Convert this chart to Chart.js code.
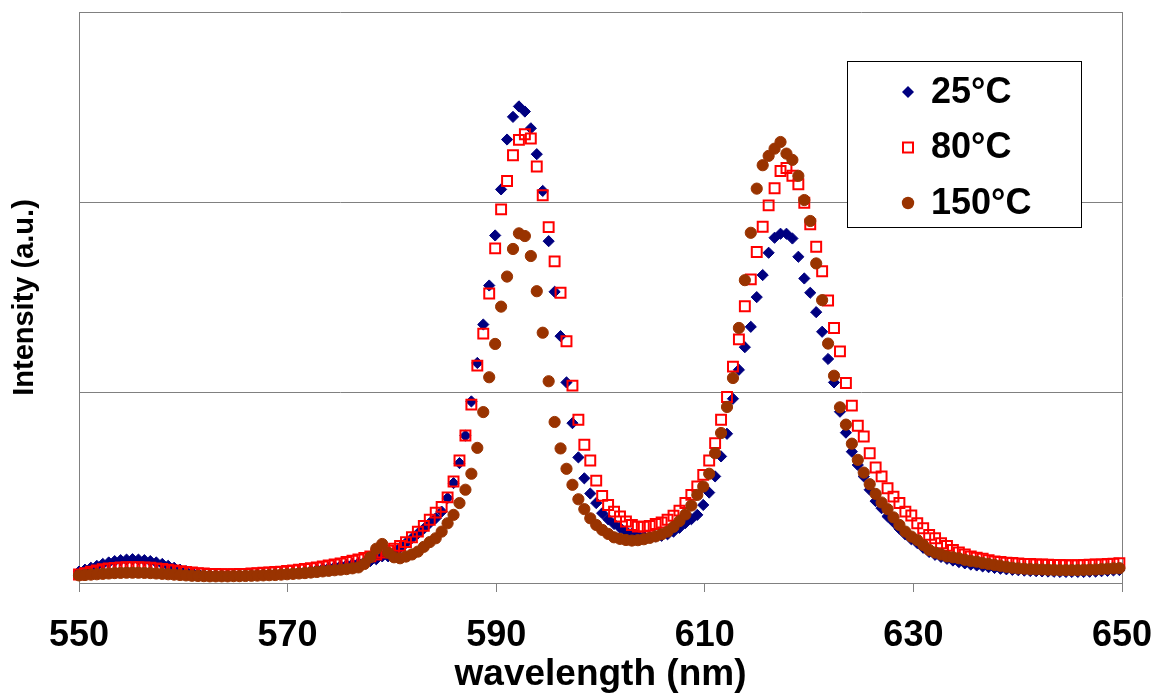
<!DOCTYPE html>
<html>
<head>
<meta charset="utf-8">
<title>Emission spectra</title>
<script src="https://cdn.jsdelivr.net/npm/chart.js"></script>
<style>
  html, body { margin: 0; padding: 0; background: #fff; }
  #wrap { width: 1156px; height: 698px; }
</style>
</head>
<body>
<div id="wrap"><canvas id="spectrumChart" width="1156" height="698"></canvas></div>
<script>
// wavelength grid (nm)
const wavelengths = [
  550.00, 550.57, 551.14, 551.71, 552.28, 552.85, 553.42, 553.99, 554.56, 555.13,
  555.70, 556.27, 556.84, 557.41, 557.98, 558.55, 559.12, 559.69, 560.26, 560.83,
  561.40, 561.97, 562.54, 563.11, 563.68, 564.25, 564.82, 565.39, 565.96, 566.53,
  567.10, 567.67, 568.24, 568.81, 569.38, 569.95, 570.52, 571.09, 571.66, 572.23,
  572.80, 573.37, 573.94, 574.51, 575.08, 575.65, 576.22, 576.79, 577.36, 577.93,
  578.50, 579.07, 579.64, 580.21, 580.78, 581.35, 581.92, 582.49, 583.06, 583.63,
  584.20, 584.77, 585.34, 585.91, 586.48, 587.05, 587.62, 588.19, 588.76, 589.33,
  589.90, 590.47, 591.04, 591.61, 592.18, 592.75, 593.32, 593.89, 594.46, 595.03,
  595.60, 596.17, 596.74, 597.31, 597.88, 598.45, 599.02, 599.59, 600.16, 600.73,
  601.30, 601.87, 602.44, 603.01, 603.58, 604.15, 604.72, 605.29, 605.86, 606.43,
  607.00, 607.57, 608.14, 608.71, 609.28, 609.85, 610.42, 610.99, 611.56, 612.13,
  612.70, 613.27, 613.84, 614.41, 614.98, 615.55, 616.12, 616.69, 617.26, 617.83,
  618.40, 618.97, 619.54, 620.11, 620.68, 621.25, 621.82, 622.39, 622.96, 623.53,
  624.10, 624.67, 625.24, 625.81, 626.38, 626.95, 627.52, 628.09, 628.66, 629.23,
  629.80, 630.37, 630.94, 631.51, 632.08, 632.65, 633.22, 633.79, 634.36, 634.93,
  635.50, 636.07, 636.64, 637.21, 637.78, 638.35, 638.92, 639.49, 640.06, 640.63,
  641.20, 641.77, 642.34, 642.91, 643.48, 644.05, 644.62, 645.19, 645.76, 646.33,
  646.90, 647.47, 648.04, 648.61, 649.18, 649.75
];

// intensities (a.u.), one value per wavelength
const int25 = [
  0.06, 0.07, 0.08, 0.09, 0.10, 0.108, 0.115, 0.12, 0.123, 0.125,
  0.123, 0.12, 0.115, 0.108, 0.10, 0.09, 0.08, 0.07, 0.062, 0.055,
  0.05, 0.045, 0.042, 0.04, 0.04, 0.04, 0.04, 0.04, 0.04, 0.042,
  0.044, 0.045, 0.046, 0.048, 0.05, 0.052, 0.055, 0.058, 0.06, 0.065,
  0.07, 0.075, 0.08, 0.085, 0.09, 0.095, 0.10, 0.105, 0.11, 0.115,
  0.125, 0.14, 0.14, 0.16, 0.185, 0.21, 0.235, 0.26, 0.285, 0.315,
  0.34, 0.375, 0.446, 0.525, 0.63, 0.774, 0.954, 1.156, 1.358, 1.563,
  1.826, 2.068, 2.33, 2.449, 2.504, 2.477, 2.389, 2.253, 2.06, 1.796,
  1.53, 1.297, 1.054, 0.84, 0.66, 0.55, 0.47, 0.42, 0.367, 0.335,
  0.31, 0.29, 0.272, 0.26, 0.25, 0.245, 0.243, 0.244, 0.248, 0.256,
  0.27, 0.29, 0.315, 0.335, 0.358, 0.41, 0.475, 0.56, 0.665, 0.784,
  0.968, 1.12, 1.239, 1.346, 1.502, 1.618, 1.735, 1.814, 1.835, 1.835,
  1.81, 1.714, 1.6, 1.525, 1.423, 1.32, 1.177, 1.054, 0.9, 0.79,
  0.69, 0.62, 0.56, 0.49, 0.43, 0.393, 0.35, 0.32, 0.285, 0.255,
  0.23, 0.21, 0.185, 0.163, 0.148, 0.137, 0.127, 0.118, 0.11, 0.103,
  0.097, 0.092, 0.087, 0.083, 0.079, 0.075, 0.072, 0.069, 0.067, 0.065,
  0.063, 0.062, 0.061, 0.06, 0.059, 0.058, 0.058, 0.058, 0.058, 0.058,
  0.059, 0.06, 0.062, 0.064, 0.066, 0.068
];

const int80 = [
  0.045, 0.052, 0.06, 0.066, 0.072, 0.076, 0.079, 0.082, 0.083, 0.083,
  0.083, 0.082, 0.08, 0.077, 0.074, 0.07, 0.066, 0.062, 0.058, 0.055,
  0.052, 0.05, 0.048, 0.047, 0.046, 0.046, 0.046, 0.047, 0.048, 0.05,
  0.052, 0.054, 0.056, 0.058, 0.06, 0.063, 0.066, 0.07, 0.074, 0.078,
  0.082, 0.087, 0.092, 0.097, 0.103, 0.11, 0.117, 0.124, 0.132, 0.14,
  0.15, 0.16, 0.17, 0.18, 0.195, 0.215, 0.24, 0.27, 0.30, 0.332,
  0.37, 0.40, 0.45, 0.533, 0.644, 0.775, 0.937, 1.142, 1.31, 1.521,
  1.758, 1.963, 2.112, 2.247, 2.328, 2.358, 2.335, 2.188, 2.037, 1.87,
  1.69, 1.525, 1.27, 1.037, 0.858, 0.726, 0.644, 0.538, 0.458, 0.41,
  0.375, 0.349, 0.323, 0.305, 0.296, 0.296, 0.30, 0.31, 0.318, 0.332,
  0.353, 0.38, 0.42, 0.463, 0.507, 0.568, 0.644, 0.735, 0.858, 0.977,
  1.137, 1.28, 1.454, 1.595, 1.739, 1.872, 1.984, 2.074, 2.165, 2.18,
  2.14, 2.095, 1.998, 1.884, 1.767, 1.638, 1.484, 1.34, 1.217, 1.051,
  0.932, 0.826, 0.77, 0.682, 0.607, 0.56, 0.498, 0.454, 0.42, 0.375,
  0.355, 0.314, 0.288, 0.253, 0.235, 0.209, 0.195, 0.174, 0.16, 0.15,
  0.139, 0.133, 0.128, 0.12, 0.113, 0.11, 0.107, 0.105, 0.103, 0.10,
  0.10, 0.098, 0.097, 0.096, 0.095, 0.095, 0.094, 0.094, 0.094, 0.095,
  0.096, 0.097, 0.098, 0.10, 0.102, 0.104
];

const int150 = [
  0.04, 0.042, 0.044, 0.046, 0.048, 0.05, 0.052, 0.053, 0.054, 0.054,
  0.054, 0.053, 0.052, 0.05, 0.048, 0.046, 0.044, 0.042, 0.04, 0.038,
  0.037, 0.036, 0.035, 0.035, 0.035, 0.035, 0.036, 0.036, 0.037, 0.038,
  0.039, 0.04, 0.041, 0.042, 0.044, 0.046, 0.048, 0.05, 0.052, 0.055,
  0.058, 0.061, 0.064, 0.067, 0.07, 0.073, 0.077, 0.082, 0.10, 0.135,
  0.18, 0.205, 0.16, 0.135, 0.13, 0.139, 0.15, 0.165, 0.19, 0.215,
  0.235, 0.27, 0.314, 0.358, 0.42, 0.49, 0.574, 0.71, 0.898, 1.081,
  1.256, 1.452, 1.61, 1.755, 1.837, 1.823, 1.718, 1.533, 1.315, 1.06,
  0.846, 0.707, 0.60, 0.516, 0.44, 0.388, 0.34, 0.305, 0.279, 0.258,
  0.24, 0.232, 0.226, 0.223, 0.225, 0.23, 0.237, 0.245, 0.256, 0.27,
  0.295, 0.325, 0.36, 0.407, 0.463, 0.507, 0.574, 0.682, 0.788, 0.925,
  1.077, 1.34, 1.591, 1.84, 2.072, 2.195, 2.244, 2.282, 2.317, 2.256,
  2.223, 2.139, 2.012, 1.902, 1.679, 1.486, 1.258, 1.089, 0.923, 0.832,
  0.732, 0.647, 0.58, 0.519, 0.468, 0.423, 0.388, 0.345, 0.305, 0.27,
  0.244, 0.226, 0.20, 0.174, 0.16, 0.15, 0.14, 0.135, 0.13, 0.122,
  0.116, 0.112, 0.105, 0.10, 0.095, 0.09, 0.085, 0.08, 0.077, 0.075,
  0.073, 0.072, 0.071, 0.07, 0.069, 0.068, 0.068, 0.068, 0.068, 0.069,
  0.07, 0.071, 0.073, 0.075, 0.077, 0.078
];

const seriesLabels = ['25°C', '80°C', '150°C'];
const xTicks = [550, 570, 590, 610, 630, 650];

const FONT = '"Liberation Sans", Arial, Helvetica, sans-serif';

function toPoints(values) {
    return wavelengths.map(function (w, i) {
        return {x: w, y: values[i]};
    });
}

// right edge of the plot frame (top edge is the y=3 grid line)
const plotFrame = {
    id: 'plotFrame',
    beforeDatasetsDraw(chart) {
        const a = chart.chartArea;
        const ctx = chart.ctx;
        ctx.save();
        ctx.strokeStyle = '#808080';
        ctx.lineWidth = 1;
        ctx.beginPath();
        ctx.moveTo(Math.round(a.right) + 0.5, a.top);
        ctx.lineTo(Math.round(a.right) + 0.5, a.bottom);
        ctx.stroke();
        ctx.restore();
    }
};

// boxed legend inside the plot, like the spreadsheet original
const boxLegend = {
    id: 'boxLegend',
    afterDraw(chart) {
        const ctx = chart.ctx;
        ctx.save();
        ctx.fillStyle = '#ffffff';
        ctx.fillRect(847, 61, 234, 166);
        ctx.strokeStyle = '#000000';
        ctx.lineWidth = 1;
        ctx.strokeRect(847.5, 61.5, 234, 166);

        chart.data.datasets.forEach(function (ds, i) {
            const cx = 908;
            const cy = 92 + i * 55.5;
            ctx.beginPath();
            if (ds.pointStyle === 'rectRot') {
                const r = 6;
                ctx.moveTo(cx - r, cy);
                ctx.lineTo(cx, cy - r);
                ctx.lineTo(cx + r, cy);
                ctx.lineTo(cx, cy + r);
                ctx.closePath();
                ctx.fillStyle = ds.backgroundColor;
                ctx.fill();
            } else if (ds.pointStyle === 'rect') {
                ctx.rect(cx - 5, cy - 5, 10, 10);
                ctx.fillStyle = '#ffffff';
                ctx.fill();
                ctx.lineWidth = 2;
                ctx.strokeStyle = ds.borderColor;
                ctx.stroke();
            } else {
                ctx.arc(cx, cy, 6.2, 0, Math.PI * 2);
                ctx.fillStyle = ds.backgroundColor;
                ctx.fill();
            }
            ctx.fillStyle = '#000000';
            ctx.font = 'bold 36px ' + FONT;
            ctx.textAlign = 'left';
            ctx.textBaseline = 'middle';
            ctx.fillText(ds.label, 931, cy + 1);
        });
        ctx.restore();
    }
};

const ctx = document.getElementById('spectrumChart').getContext('2d');
new Chart(ctx, {
    type: 'scatter',
    data: {
        datasets: [{
            label: seriesLabels[0],
            data: toPoints(int25),
            pointStyle: 'rectRot',
            pointRadius: 5.6,
            borderWidth: 1,
            backgroundColor: '#000080',
            borderColor: '#000080',
            order: 3
        }, {
            label: seriesLabels[1],
            data: toPoints(int80),
            pointStyle: 'rect',
            pointRadius: 7,
            borderWidth: 2,
            backgroundColor: 'rgba(255,255,255,0)',
            borderColor: '#ff0000',
            order: 2
        }, {
            label: seriesLabels[2],
            data: toPoints(int150),
            pointStyle: 'circle',
            pointRadius: 5.6,
            borderWidth: 1,
            backgroundColor: '#993300',
            borderColor: '#993300',
            order: 1
        }]
    },
    options: {
        responsive: false,
        animation: false,
        devicePixelRatio: 1,
        layout: {
            padding: {top: 12, right: 34, left: 0, bottom: 0}
        },
        datasets: {
            scatter: {clip: false, pointHoverRadius: 6}
        },
        scales: {
            x: {
                type: 'linear',
                min: 550,
                max: 650,
                afterFit: function (scale) {
                    scale.height = 115;
                    // end labels may spill past the plot edges, as in the original
                    scale.paddingLeft = 0;
                    scale.paddingRight = 0;
                },
                afterBuildTicks: function (scale) {
                    scale.ticks = xTicks.map(function (v) { return {value: v}; });
                },
                grid: {
                    drawOnChartArea: false,
                    drawTicks: true,
                    tickLength: 9,
                    tickColor: '#808080',
                    color: '#808080'
                },
                border: {color: '#808080', width: 1},
                ticks: {
                    color: '#000000',
                    padding: 22,
                    maxRotation: 0,
                    font: {family: FONT, size: 36, weight: 'bold'}
                },
                title: {
                    display: true,
                    text: 'wavelength (nm)',
                    color: '#000000',
                    padding: {top: 0, bottom: 1},
                    font: {family: FONT, size: 37, weight: 'bold'}
                }
            },
            y: {
                min: 0,
                max: 3,
                afterFit: function (scale) { scale.width = 79; },
                ticks: {display: false, stepSize: 1},
                grid: {
                    color: '#808080',
                    drawTicks: false
                },
                border: {color: '#808080', width: 1},
                title: {
                    display: true,
                    text: 'Intensity (a.u.)',
                    color: '#000000',
                    padding: {top: 8, bottom: 0},
                    font: {family: FONT, size: 29, weight: 'bold'}
                }
            }
        },
        plugins: {
            legend: {display: false},
            tooltip: {enabled: false}
        }
    },
    plugins: [plotFrame, boxLegend]
});
</script>
</body>
</html>
